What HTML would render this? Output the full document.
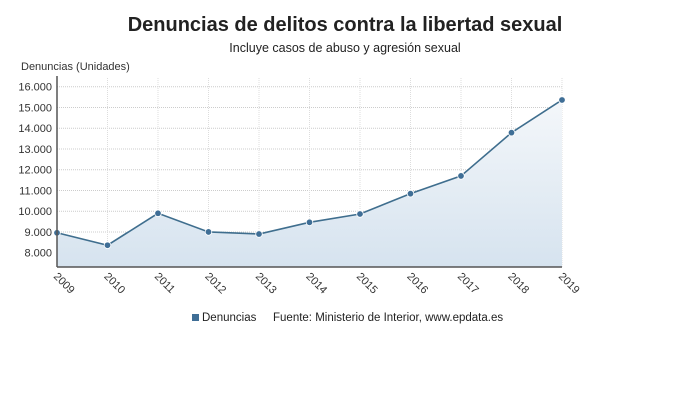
<!DOCTYPE html>
<html><head><meta charset="utf-8"><style>
body{margin:0;background:#fff;width:690px;height:406px;overflow:hidden;font-family:"Liberation Sans",sans-serif}
</style></head><body>
<svg id="chart" width="690" height="406">
<text x="345" y="31" text-anchor="middle" font-size="20" font-weight="bold" fill="#222">Denuncias de delitos contra la libertad sexual</text>
<text x="345" y="52" text-anchor="middle" font-size="12.5" fill="#222">Incluye casos de abuso y agresión sexual</text>
<text x="21" y="70" font-size="11" fill="#333">Denuncias (Unidades)</text>
<defs><linearGradient id="ag" x1="0" y1="0" x2="0" y2="1"><stop offset="0" stop-color="#f4f7fa"/><stop offset="1" stop-color="#d6e3ef"/></linearGradient></defs>
<g id="grid"></g><g id="area"></g><g id="marks"></g><g id="axes"></g>
<rect x="192" y="314" width="7" height="7" fill="#3f6e96"/>
<text x="202" y="321" font-size="11.5" fill="#222">Denuncias</text>
<text x="273" y="321" font-size="11.5" fill="#222">Fuente: Ministerio de Interior, www.epdata.es</text>
</svg>
<script>
const years=["2009","2010","2011","2012","2013","2014","2015","2016","2017","2018","2019"];
const values=[8960,8360,9900,9000,8900,9465,9865,10845,11700,13785,15360];
const yTicks=[8000,9000,10000,11000,12000,13000,14000,15000,16000];
const yTickLabels=["8.000","9.000","10.000","11.000","12.000","13.000","14.000","15.000","16.000"];
const NS="http://www.w3.org/2000/svg";
const x0=57,x1=562,yTop=78,yBot=267;
const X=i=>x0+i*(x1-x0)/(years.length-1);
const Y=v=>86.7+(16000-v)*20.75/1000;
function mk(t,a,p){const e=document.createElementNS(NS,t);for(const k in a)e.setAttribute(k,a[k]);document.getElementById(p).appendChild(e);return e;}
yTicks.forEach((v,i)=>{
 const l=mk('line',{x1:x0,x2:x1,y1:Y(v),y2:Y(v),stroke:'#ccc','stroke-dasharray':'1,1'},'grid');
 
 
 const t=mk('text',{x:x0-5,y:Y(v)+4,'text-anchor':'end','font-size':11,fill:'#333'},'axes');
 t.textContent=yTickLabels[i];
 
 
});
years.forEach((y,i)=>{
 const l=mk('line',{x1:X(i),x2:X(i),y1:yTop,y2:yBot,stroke:'#ddd','stroke-dasharray':'1,1'},'grid');
 
 
 const t=mk('text',{x:X(i)-4,y:yBot+10,'font-size':11,fill:'#333',transform:`rotate(45 ${X(i)-4} ${yBot+10})`},'axes');
 t.textContent=y;
 
 
});
const pts=values.map((v,i)=>X(i)+','+Y(v)).join(' ');
const a=mk('polygon',{points:`${X(0)},${yBot} ${pts} ${X(values.length-1)},${yBot}`,fill:'url(#ag)'},'area');


const pl=mk('polyline',{points:pts,fill:'none',stroke:'#3f6e8e','stroke-width':1.6},'marks');


values.forEach((v,i)=>{
 const c=mk('circle',{cx:X(i),cy:Y(v),r:3.3,fill:'#3f6e96',stroke:'#fff','stroke-width':0.8},'marks');
 
 
});
const ax=mk('line',{x1:x0,x2:x0,y1:yTop-2,y2:yBot,stroke:'#555','stroke-width':1.5},'axes');


const bx=mk('line',{x1:x0,x2:x1,y1:yBot,y2:yBot,stroke:'#555','stroke-width':1.5},'axes');


</script>
</body></html>
